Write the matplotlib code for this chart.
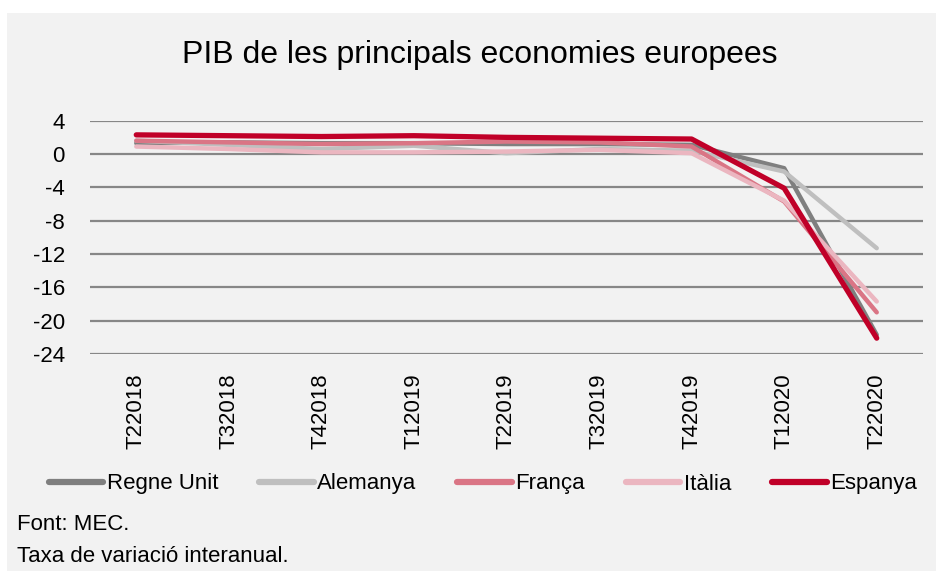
import matplotlib
matplotlib.use("Agg")
import matplotlib.pyplot as plt
from matplotlib.patches import Rectangle

plt.rcParams['font.family'] = ['Liberation Sans', 'DejaVu Sans']

categories = ["T22018", "T32018", "T42018", "T12019", "T22019", "T32019", "T42019", "T12020", "T22020"]
regne_unit = [1.3, 1.4, 1.3, 1.3, 1.2, 1.2, 1.1, -1.7, -21.7]
alemanya = [1.6, 1.1, 0.6, 1.0, 0.1, 0.6, 0.4, -2.1, -11.3]
franca = [1.6, 1.4, 1.2, 1.3, 1.5, 1.4, 0.9, -5.7, -19.0]
italia = [0.9, 0.6, 0.2, 0.2, 0.3, 0.5, 0.1, -5.6, -17.7]
espanya = [2.3, 2.2, 2.1, 2.2, 2.0, 1.9, 1.8, -4.1, -22.1]
yticks = [4, 0, -4, -8, -12, -16, -20, -24]

series = [
    ("Regne Unit", regne_unit, "#7F7F7F", 3.2),
    ("Alemanya", alemanya, "#BFBFBF", 3.2),
    ("França", franca, "#DA7585", 3.2),
    ("Itàlia", italia, "#EBB6C0", 3.2),
    ("Espanya", espanya, "#C00028", 3.8),
]

W, H = 937, 571
fig = plt.figure(figsize=(W / 100, H / 100), dpi=100)
fig.patch.set_facecolor("white")
fig.add_artist(Rectangle((7 / W, 0), 1 - 7 / W, 1 - 13 / H, transform=fig.transFigure,
                         facecolor="#F2F2F2", edgecolor="none", zorder=-10))

ax = fig.add_axes([90 / W, 1 - 354 / H, (923 - 90) / W, (354 - 120.7) / H])
ax.set_facecolor("none")

x = list(range(len(categories)))
for name, vals, col, lw in series:
    ax.plot(x, vals, color=col, lw=lw, label=name, solid_capstyle="round",
            solid_joinstyle="round", zorder=3)

ax.set_xlim(-0.5, len(categories) - 0.5)
ax.set_ylim(-24, 4)
ax.set_yticks(yticks)
ax.set_yticklabels([str(v) for v in yticks])
ax.set_xticks(x)
ax.set_xticklabels(categories, rotation=90)
ax.grid(axis="y", color="#878787", lw=1.6, zorder=1)
ax.grid(axis="x", visible=False)
for s in ax.spines.values():
    s.set_visible(False)
ax.tick_params(axis="both", length=0, labelsize=16, colors="black")
ax.tick_params(axis="y", pad=18)
ax.tick_params(axis="x", pad=14)

fig.text(480 / W, 1 - 55 / H, "PIB de les principals economies europees",
         ha="center", va="center", fontsize=23)

handles, labels = ax.get_legend_handles_labels()
leg = fig.legend(handles, labels, loc="center left", bbox_to_anchor=(40 / W, 1 - 484 / H),
                 ncol=5, frameon=False, fontsize=16, handlelength=2.45,
                 handletextpad=0.15, columnspacing=1.85, borderaxespad=0)
for line in leg.get_lines():
    line.set_linewidth(4.5)
    line.set_solid_capstyle("round")

fig.text(17 / W, 1 - 524 / H, "Font: MEC.", ha="left", va="center", fontsize=16)
fig.text(17 / W, 1 - 557 / H, "Taxa de variació interanual.", ha="left", va="center", fontsize=16)

fig.savefig("out.png", dpi=100)
